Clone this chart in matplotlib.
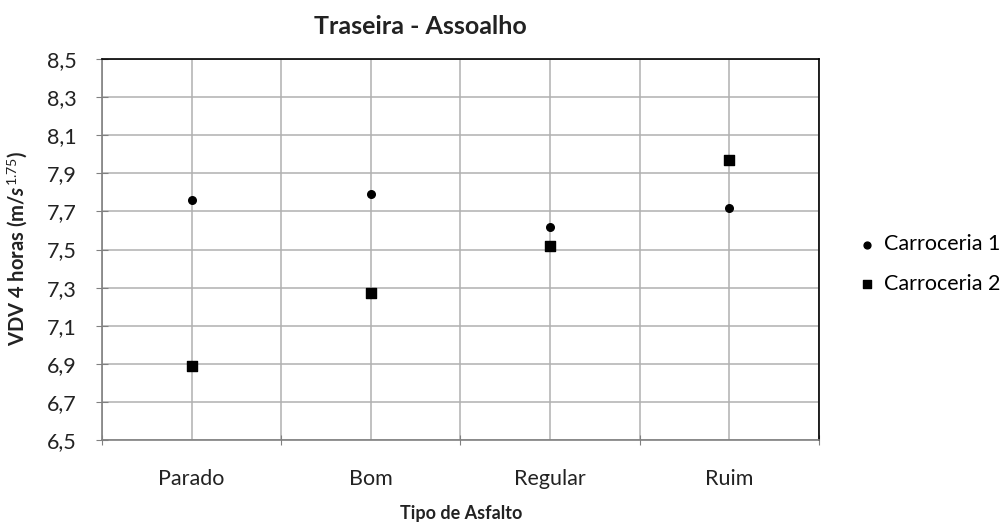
import matplotlib.pyplot as plt
import numpy as np

# dados
categorias = ['Parado', 'Bom', 'Regular', 'Ruim']
carroceria1 = [7.76, 7.79, 7.62, 7.72]
carroceria2 = [6.89, 7.27, 7.52, 7.97]
yticks = [6.5, 6.7, 6.9, 7.1, 7.3, 7.5, 7.7, 7.9, 8.1, 8.3, 8.5]

plt.rcParams['font.family'] = ['Lato', 'DejaVu Sans']
plt.rcParams['mathtext.fontset'] = 'custom'
plt.rcParams['mathtext.rm'] = 'Lato'
plt.rcParams['mathtext.it'] = 'Lato:italic:bold'
plt.rcParams['mathtext.bf'] = 'Lato:bold'

fig = plt.figure(figsize=(10.03, 5.27), dpi=100)
ax = fig.add_axes([102 / 1003, 1 - 440 / 527, 717 / 1003, 381 / 527])

x = np.arange(1, len(categorias) + 1)
ax.scatter(x, carroceria1, marker='o', s=30, color='black', zorder=3, label='Carroceria 1')
ax.scatter(x, carroceria2, marker='s', s=48, color='black', zorder=3, label='Carroceria 2')

ax.set_xlim(0.5, 4.5)
ax.set_ylim(6.5, 8.5)
ax.set_yticks(yticks)
ax.set_yticklabels([('%.1f' % v).replace('.', ',') for v in yticks], fontsize=15.5, color='#222222')

# ticks nas fronteiras das categorias, rotulos no centro
ax.set_xticks([0.5, 1.5, 2.5, 3.5, 4.5])
ax.set_xticklabels([])
ax.set_xticks(x, minor=True)
ax.set_xticklabels(categorias, minor=True, fontsize=15.5, color='#222222')
ax.tick_params(axis='x', which='minor', length=0, pad=21)
ax.tick_params(axis='x', which='major', length=7, color='#808080', direction='inout')
ax.tick_params(axis='y', length=8, color='#808080', direction='inout', pad=14)

for xv in np.arange(0.5, 4.51, 0.5):
    ax.axvline(xv, color='#b0b0b0', lw=1.1, zorder=1)
for yv in yticks:
    ax.axhline(yv, color='#b0b0b0', lw=1.1, zorder=1)

ax.spines['left'].set_color('#808080')
ax.spines['bottom'].set_color('#808080')
ax.spines['top'].set_color('black')
ax.spines['right'].set_color('black')
for s in ax.spines.values():
    s.set_linewidth(1.2)
    s.set_zorder(2)

fig.text(420 / 1003, 1 - 27 / 527, 'Traseira - Assoalho', ha='center', va='center',
         fontsize=18, fontweight='bold', color='#222222')
fig.text(461 / 1003, 1 - 514 / 527, 'Tipo de Asfalto', ha='center', va='center',
         fontsize=13, fontweight='bold', color='#222222')
fig.text(18 / 1003, 1 - 248 / 527, r'VDV 4 horas (m/$s^{1.75}$)', ha='center', va='center',
         rotation=90, fontsize=14.5, fontweight='bold', color='#222222')

ax.legend(loc='center left', bbox_to_anchor=(856 / 1003, 1 - 264 / 527),
          bbox_transform=fig.transFigure, frameon=False, fontsize=15.5,
          borderpad=0, borderaxespad=0,
          handletextpad=0.3, handlelength=1.0, labelspacing=0.9, markerscale=0.9)

fig.savefig('out.png', dpi=100, facecolor='white')
